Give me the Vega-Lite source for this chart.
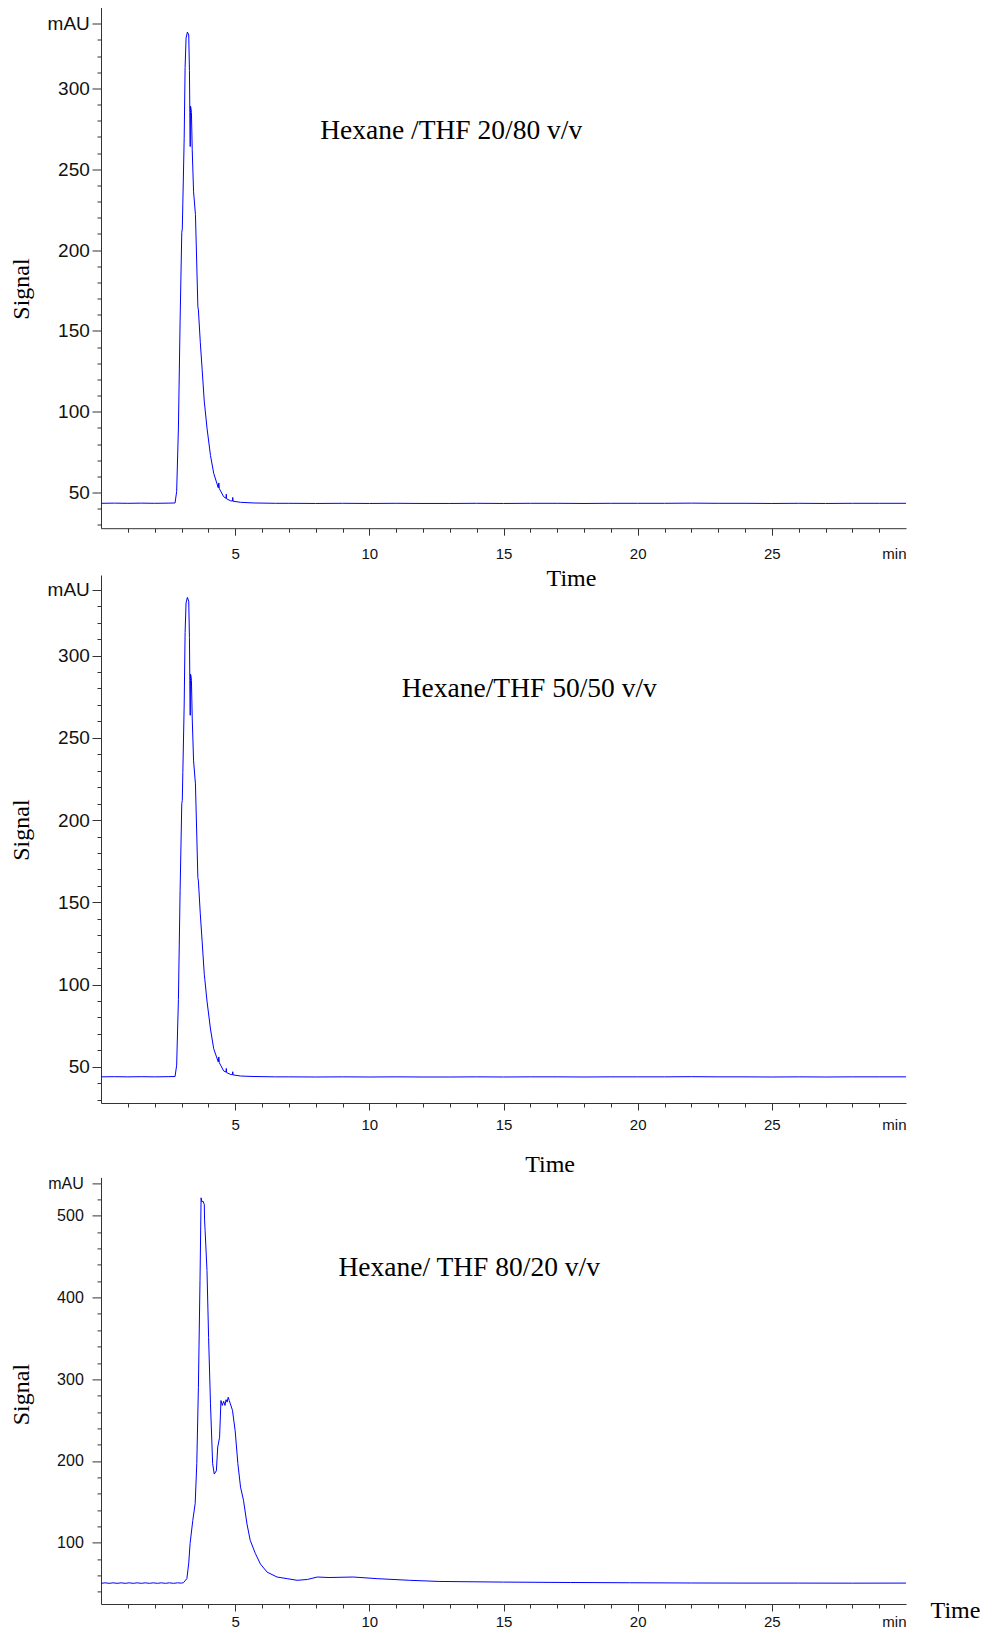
{
  "$schema": "https://vega.github.io/schema/vega-lite/v6.json",
  "background": "white",
  "padding": {"left": 8, "top": 7.5, "right": 0, "bottom": 0},
  "config": {
    "view": {"stroke": null},
    "axis": {"grid": false, "domainColor": "#333", "tickColor": "#333", "labelColor": "#111", "labelFont": "Liberation Sans", "titleFont": "Liberation Serif", "titleFontWeight": "normal", "titleFontSize": 24, "titleColor": "#000", "labelOverlap": false, "labelFlush": false, "labelBound": false}
  },
  "datasets": {
    "p1": [
      {"t": 0, "s": 43.4}, {"t": 0.5, "s": 43.5}, {"t": 1, "s": 43.4}, {"t": 1.5, "s": 43.5}, {"t": 2, "s": 43.4}, {"t": 2.5, "s": 43.5}, {"t": 2.76, "s": 43.6},
      {"t": 2.82, "s": 50.7}, {"t": 2.885, "s": 90}, {"t": 2.948, "s": 156}, {"t": 3.01, "s": 211}, {"t": 3.03, "s": 213}, {"t": 3.05, "s": 229}, {"t": 3.1, "s": 269}, {"t": 3.134, "s": 313}, {"t": 3.17, "s": 331}, {"t": 3.22, "s": 334.8}, {"t": 3.27, "s": 333}, {"t": 3.296, "s": 311}, {"t": 3.31, "s": 285}, {"t": 3.325, "s": 264}, {"t": 3.335, "s": 289}, {"t": 3.35, "s": 288}, {"t": 3.37, "s": 285}, {"t": 3.4, "s": 262}, {"t": 3.45, "s": 236}, {"t": 3.52, "s": 222}, {"t": 3.61, "s": 165}, {"t": 3.63, "s": 163}, {"t": 3.7, "s": 143}, {"t": 3.77, "s": 126}, {"t": 3.85, "s": 106}, {"t": 3.87, "s": 103}, {"t": 3.95, "s": 90}, {"t": 4.08, "s": 73}, {"t": 4.2, "s": 62}, {"t": 4.37, "s": 53}, {"t": 4.39, "s": 56}, {"t": 4.41, "s": 52.5}, {"t": 4.57, "s": 47.5}, {"t": 4.66, "s": 46.5}, {"t": 4.67, "s": 49}, {"t": 4.68, "s": 46.2}, {"t": 4.82, "s": 45}, {"t": 4.9, "s": 44.8}, {"t": 4.91, "s": 47}, {"t": 4.92, "s": 44.7}, {"t": 5.2, "s": 44}, {"t": 5.7, "s": 43.6}, {"t": 6.5, "s": 43.4},
      {"t": 7, "s": 43.4}, {"t": 8, "s": 43.3}, {"t": 9, "s": 43.4}, {"t": 10, "s": 43.3}, {"t": 11, "s": 43.4}, {"t": 12, "s": 43.3}, {"t": 13, "s": 43.3}, {"t": 14, "s": 43.4}, {"t": 15, "s": 43.3}, {"t": 16, "s": 43.4}, {"t": 17, "s": 43.4}, {"t": 18, "s": 43.3}, {"t": 19, "s": 43.4}, {"t": 20, "s": 43.4}, {"t": 21, "s": 43.4}, {"t": 22, "s": 43.5}, {"t": 23, "s": 43.4}, {"t": 24, "s": 43.4}, {"t": 25, "s": 43.3}, {"t": 26, "s": 43.4}, {"t": 27, "s": 43.3}, {"t": 28, "s": 43.4}, {"t": 29, "s": 43.4}, {"t": 30, "s": 43.4}
    ],
    "p2": [
      {"t": 0, "s": 43.9}, {"t": 0.5, "s": 44.0}, {"t": 1, "s": 43.9}, {"t": 1.5, "s": 44.0}, {"t": 2, "s": 43.9}, {"t": 2.5, "s": 44.0}, {"t": 2.76, "s": 44.1},
      {"t": 2.82, "s": 51}, {"t": 2.885, "s": 91}, {"t": 2.948, "s": 157}, {"t": 3.01, "s": 210}, {"t": 3.03, "s": 212}, {"t": 3.05, "s": 229}, {"t": 3.1, "s": 270}, {"t": 3.134, "s": 314}, {"t": 3.17, "s": 332}, {"t": 3.22, "s": 335.4}, {"t": 3.27, "s": 333}, {"t": 3.296, "s": 311}, {"t": 3.31, "s": 285}, {"t": 3.325, "s": 263.7}, {"t": 3.335, "s": 288.7}, {"t": 3.35, "s": 288}, {"t": 3.37, "s": 285}, {"t": 3.4, "s": 262}, {"t": 3.45, "s": 236}, {"t": 3.52, "s": 222}, {"t": 3.61, "s": 165}, {"t": 3.63, "s": 163}, {"t": 3.7, "s": 143}, {"t": 3.77, "s": 126}, {"t": 3.85, "s": 106}, {"t": 3.87, "s": 103}, {"t": 3.95, "s": 90}, {"t": 4.08, "s": 73}, {"t": 4.2, "s": 61}, {"t": 4.37, "s": 53}, {"t": 4.39, "s": 56}, {"t": 4.41, "s": 52.5}, {"t": 4.57, "s": 47.5}, {"t": 4.66, "s": 46.8}, {"t": 4.67, "s": 49}, {"t": 4.68, "s": 46.5}, {"t": 4.82, "s": 45.4}, {"t": 4.9, "s": 45.2}, {"t": 4.91, "s": 47}, {"t": 4.92, "s": 45.1}, {"t": 5.2, "s": 44.4}, {"t": 5.7, "s": 44.1}, {"t": 6.5, "s": 43.9},
      {"t": 7, "s": 43.9}, {"t": 8, "s": 43.8}, {"t": 9, "s": 43.9}, {"t": 10, "s": 43.8}, {"t": 11, "s": 43.9}, {"t": 12, "s": 43.8}, {"t": 13, "s": 43.8}, {"t": 14, "s": 43.9}, {"t": 15, "s": 43.8}, {"t": 16, "s": 43.9}, {"t": 17, "s": 43.9}, {"t": 18, "s": 43.8}, {"t": 19, "s": 43.9}, {"t": 20, "s": 43.9}, {"t": 21, "s": 43.9}, {"t": 22, "s": 44.0}, {"t": 23, "s": 43.9}, {"t": 24, "s": 43.9}, {"t": 25, "s": 43.8}, {"t": 26, "s": 43.9}, {"t": 27, "s": 43.8}, {"t": 28, "s": 43.9}, {"t": 29, "s": 43.9}, {"t": 30, "s": 43.9}
    ],
    "p3": [
      {"t": 0, "s": 50.3}, {"t": 0.15, "s": 50.9}, {"t": 0.3, "s": 50.3}, {"t": 0.45, "s": 50.9}, {"t": 0.6, "s": 50.3}, {"t": 0.75, "s": 50.9}, {"t": 0.9, "s": 50.3}, {"t": 1.05, "s": 50.9}, {"t": 1.2, "s": 50.3}, {"t": 1.35, "s": 50.9}, {"t": 1.5, "s": 50.3}, {"t": 1.65, "s": 50.9}, {"t": 1.8, "s": 50.3}, {"t": 1.95, "s": 50.9}, {"t": 2.1, "s": 50.3}, {"t": 2.25, "s": 50.9}, {"t": 2.4, "s": 50.3}, {"t": 2.55, "s": 50.9}, {"t": 2.7, "s": 50.3}, {"t": 2.85, "s": 50.9}, {"t": 3.0, "s": 50.6},
      {"t": 3.07, "s": 51}, {"t": 3.2, "s": 56}, {"t": 3.27, "s": 75}, {"t": 3.32, "s": 99}, {"t": 3.42, "s": 127}, {"t": 3.51, "s": 148}, {"t": 3.57, "s": 197}, {"t": 3.63, "s": 290}, {"t": 3.69, "s": 421}, {"t": 3.73, "s": 522}, {"t": 3.76, "s": 517}, {"t": 3.8, "s": 518}, {"t": 3.85, "s": 514}, {"t": 3.86, "s": 495}, {"t": 3.88, "s": 482}, {"t": 3.95, "s": 433}, {"t": 4.01, "s": 351}, {"t": 4.08, "s": 270}, {"t": 4.16, "s": 197}, {"t": 4.22, "s": 184}, {"t": 4.3, "s": 188}, {"t": 4.35, "s": 217}, {"t": 4.42, "s": 229}, {"t": 4.47, "s": 274}, {"t": 4.52, "s": 268}, {"t": 4.57, "s": 273}, {"t": 4.62, "s": 268}, {"t": 4.66, "s": 275}, {"t": 4.7, "s": 272}, {"t": 4.74, "s": 278}, {"t": 4.78, "s": 274}, {"t": 4.82, "s": 270}, {"t": 4.9, "s": 262}, {"t": 5.0, "s": 237}, {"t": 5.1, "s": 197}, {"t": 5.2, "s": 168}, {"t": 5.31, "s": 152}, {"t": 5.44, "s": 123}, {"t": 5.56, "s": 103}, {"t": 5.75, "s": 87}, {"t": 5.94, "s": 74}, {"t": 6.19, "s": 64}, {"t": 6.56, "s": 58}, {"t": 6.94, "s": 56}, {"t": 7.31, "s": 54}, {"t": 7.69, "s": 55}, {"t": 8.06, "s": 58}, {"t": 8.5, "s": 57.4}, {"t": 9.4, "s": 58}, {"t": 10.3, "s": 56}, {"t": 11.5, "s": 54}, {"t": 12.6, "s": 52.6}, {"t": 15, "s": 51.8}, {"t": 17.5, "s": 51.3}, {"t": 19.7, "s": 51}, {"t": 22, "s": 50.7}, {"t": 24, "s": 50.6}, {"t": 26, "s": 50.6}, {"t": 28, "s": 50.5}, {"t": 30, "s": 50.6}
    ]
  },
  "spacing": 4.5,
  "bounds": "full",
  "vconcat": [
    {
      "width": 805,
      "height": 520.7,
      "resolve": {"axis": {"x": "independent", "y": "independent"}},
      "layer": [
        {
          "data": {"name": "p1"},
          "mark": {"type": "line", "color": "#0000ff", "strokeWidth": 1, "clip": true},
          "encoding": {
            "x": {"field": "t", "type": "quantitative", "scale": {"domain": [0, 30], "nice": false, "zero": false},
              "axis": {"orient": "bottom", "values": [5, 10, 15, 20, 25, 30], "tickSize": 7,
                "tickOpacity": {"condition": {"test": "datum.value == 30", "value": 0}, "value": 1},
                "title": null,
                "labelExpr": "datum.value == 30 ? 'min' : datum.label",
                "labelAlign": {"condition": {"test": "datum.value == 30", "value": "right"}, "value": "center"},
                "labelFontSize": 15, "labelBaseline": "middle", "labelPadding": 18}},
            "y": {"field": "s", "type": "quantitative", "scale": {"domain": [28, 350], "nice": false, "zero": false},
              "axis": {"orient": "left", "values": [50, 100, 150, 200, 250, 300, 340], "tickSize": 9,
                "title": "Signal", "titleX": -80, "titleY": 281, "titleAngle": -90, "titleAlign": "center", "titleBaseline": "middle",
                "labelExpr": "datum.value == 340 ? 'mAU' : datum.label",
                "labelFontSize": 19, "labelPadding": 2.7}}
          }
        },
        {
          "data": {"values": [{"t": 13.05, "s": 268.7, "label": "Hexane /THF 20/80 v/v"}]},
          "mark": {"type": "text", "font": "Liberation Serif", "fontSize": 27.5, "align": "center", "baseline": "alphabetic", "color": "#000"},
          "encoding": {
            "x": {"field": "t", "type": "quantitative", "scale": {"domain": [0, 30], "nice": false, "zero": false},
              "axis": {"orient": "bottom", "values": [1,2,3,4,6,7,8,9,11,12,13,14,16,17,18,19,21,22,23,24,26,27,28,29], "labels": false, "title": null, "domain": false, "tickSize": 4}},
            "y": {"field": "s", "type": "quantitative", "scale": {"domain": [28, 350], "nice": false, "zero": false},
              "axis": {"orient": "left", "values": [30,40,60,70,80,90,110,120,130,140,160,170,180,190,210,220,230,240,260,270,280,290,310,320,330], "labels": false, "title": null, "domain": false, "tickSize": 4}},
            "text": {"field": "label"}
          }
        }
      ]
    },
    {
      "spacing": 74.4,
      "bounds": "flush",
      "vconcat": [
        {
          "width": 805,
          "height": 528,
          "resolve": {"axis": {"x": "independent", "y": "independent"}},
          "layer": [
            {
              "data": {"name": "p2"},
              "mark": {"type": "line", "color": "#0000ff", "strokeWidth": 1, "clip": true},
              "encoding": {
                "x": {"field": "t", "type": "quantitative", "scale": {"domain": [0, 30], "nice": false, "zero": false},
                  "axis": {"orient": "bottom", "values": [5, 10, 15, 20, 25, 30], "tickSize": 7,
                    "tickOpacity": {"condition": {"test": "datum.value == 30", "value": 0}, "value": 1},
                    "title": "Time", "titleX": 448.6, "titleY": 61.9, "titleAlign": "center", "titleBaseline": "middle", "titleAngle": 0,
                    "labelExpr": "datum.value == 30 ? 'min' : datum.label",
                    "labelAlign": {"condition": {"test": "datum.value == 30", "value": "right"}, "value": "center"},
                    "labelFontSize": 15, "labelBaseline": "middle", "labelPadding": 14.3}},
                "y": {"field": "s", "type": "quantitative", "scale": {"domain": [28, 349], "nice": false, "zero": false},
                  "axis": {"orient": "left", "values": [50, 100, 150, 200, 250, 300, 340], "tickSize": 9,
                    "title": "Signal", "titleX": -80, "titleY": 254.6, "titleAngle": -90, "titleAlign": "center", "titleBaseline": "middle",
                    "labelExpr": "datum.value == 340 ? 'mAU' : datum.label",
                    "labelFontSize": 19, "labelPadding": 2.7}}
              }
            },
            {
              "data": {"values": [{"t": 15.96, "s": 274.7, "label": "Hexane/THF 50/50 v/v"}]},
              "mark": {"type": "text", "font": "Liberation Serif", "fontSize": 27.5, "align": "center", "baseline": "alphabetic", "color": "#000"},
              "encoding": {
                "x": {"field": "t", "type": "quantitative", "scale": {"domain": [0, 30], "nice": false, "zero": false},
                  "axis": {"orient": "bottom", "values": [1,2,3,4,6,7,8,9,11,12,13,14,16,17,18,19,21,22,23,24,26,27,28,29], "labels": false, "title": null, "domain": false, "tickSize": 4}},
                "y": {"field": "s", "type": "quantitative", "scale": {"domain": [28, 349], "nice": false, "zero": false},
                  "axis": {"orient": "left", "values": [30,40,60,70,80,90,110,120,130,140,160,170,180,190,210,220,230,240,260,270,280,290,310,320,330], "labels": false, "title": null, "domain": false, "tickSize": 4}},
                "text": {"field": "label"}
              }
            },
            {
              "data": {"name": "p2"},
              "mark": {"type": "line", "strokeOpacity": 0, "clip": true},
              "encoding": {
                "x": {"field": "t", "type": "quantitative", "scale": {"domain": [0, 30], "nice": false, "zero": false},
                  "axis": {"orient": "top", "labels": false, "ticks": false, "domain": false, "title": "Time", "titleX": 470, "titleY": 3.7, "titleAlign": "center", "titleBaseline": "middle", "titleAngle": 0}},
                "y": {"field": "s", "type": "quantitative", "scale": {"domain": [28, 349], "nice": false, "zero": false}, "axis": null}
              }
            }
          ]
        },
        {
          "width": 805,
          "height": 426.6,
          "resolve": {"axis": {"x": "independent", "y": "independent"}},
          "layer": [
            {
              "data": {"name": "p3"},
              "mark": {"type": "line", "color": "#0000ff", "strokeWidth": 1, "clip": true},
              "encoding": {
                "x": {"field": "t", "type": "quantitative", "scale": {"domain": [0, 30], "nice": false, "zero": false},
                  "axis": {"orient": "bottom", "values": [5, 10, 15, 20, 25, 30], "tickSize": 7,
                    "tickOpacity": {"condition": {"test": "datum.value == 30", "value": 0}, "value": 1},
                    "title": "Time", "titleX": 854, "titleY": 6, "titleAlign": "center", "titleBaseline": "middle", "titleAngle": 0,
                    "labelExpr": "datum.value == 30 ? 'min' : datum.label",
                    "labelAlign": {"condition": {"test": "datum.value == 30", "value": "right"}, "value": "center"},
                    "labelFontSize": 15, "labelBaseline": "middle", "labelPadding": 10}},
                "y": {"field": "s", "type": "quantitative", "scale": {"domain": [25, 547], "nice": false, "zero": false},
                  "axis": {"orient": "left", "values": [100, 200, 300, 400, 500, 540], "tickSize": 9,
                    "title": "Signal", "titleX": -80, "titleY": 216.7, "titleAngle": -90, "titleAlign": "center", "titleBaseline": "middle",
                    "labelExpr": "datum.value == 540 ? 'mAU' : datum.label",
                    "labelFontSize": 16, "labelPadding": 8.7}}
              }
            },
            {
              "data": {"values": [{"t": 13.72, "s": 426, "label": "Hexane/ THF 80/20 v/v"}]},
              "mark": {"type": "text", "font": "Liberation Serif", "fontSize": 27.5, "align": "center", "baseline": "alphabetic", "color": "#000"},
              "encoding": {
                "x": {"field": "t", "type": "quantitative", "scale": {"domain": [0, 30], "nice": false, "zero": false},
                  "axis": {"orient": "bottom", "values": [1,2,3,4,6,7,8,9,11,12,13,14,16,17,18,19,21,22,23,24,26,27,28,29], "labels": false, "title": null, "domain": false, "tickSize": 4}},
                "y": {"field": "s", "type": "quantitative", "scale": {"domain": [25, 547], "nice": false, "zero": false},
                  "axis": {"orient": "left", "values": [40,60,80,120,140,160,180,220,240,260,280,320,340,360,380,420,440,460,480,520], "labels": false, "title": null, "domain": false, "tickSize": 4}},
                "text": {"field": "label"}
              }
            }
          ]
        }
      ]
    }
  ]
}
